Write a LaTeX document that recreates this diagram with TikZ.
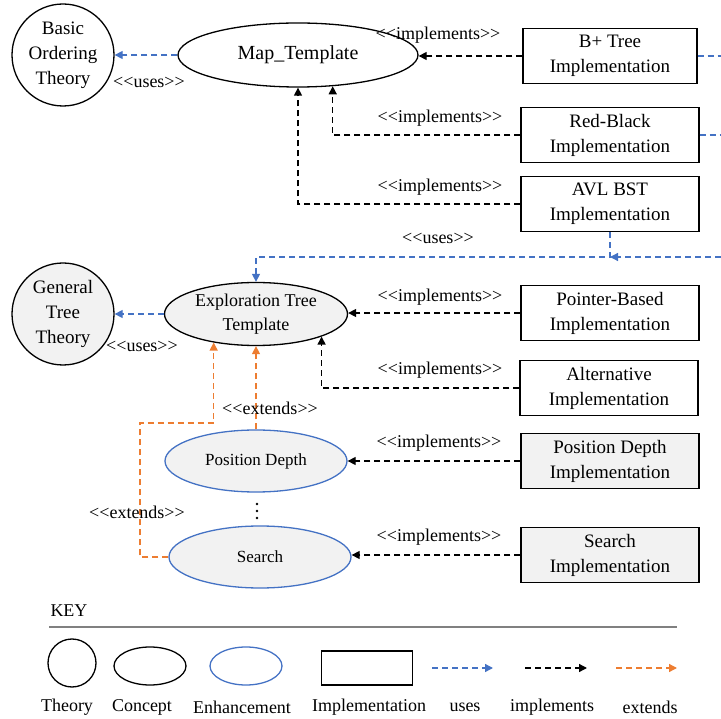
\documentclass[tikz,border=0pt]{standalone}
\usepackage{fontspec}
\setmainfont{Liberation Serif}[Ligatures=TeXOff]
\usepackage{tikz}
\usetikzlibrary{arrows.meta, shapes}

\definecolor{useblue}{HTML}{4472C4}
\definecolor{extorange}{HTML}{ED7D31}
\definecolor{shadegray}{HTML}{F2F2F2}

\begin{document}
\begin{tikzpicture}[
    x=1pt, y=-1pt,
    every node/.style={font=\fontsize{19}{25}\selectfont, align=center, inner sep=0pt},
    theory/.style={draw, circle, line width=1.3pt, minimum size=102pt},
    concept/.style={draw, ellipse, line width=1.3pt},
    enhance/.style={concept, draw=useblue, fill=shadegray, font=\fontsize{17}{22}\selectfont},
    implbox/.style={draw, rectangle, line width=1.3pt, minimum width=178pt, minimum height=55pt},
    lbl/.style={font=\fontsize{18}{22}\selectfont},
    dep/.style={dash pattern=on 6pt off 4pt, line width=1.3pt, -{Triangle[length=8pt,width=8pt]}},
    uses/.style={dep, draw=useblue},
    implements/.style={dep, draw=black},
    extends/.style={dep, draw=extorange}
]
    \useasboundingbox (0,0) rectangle (721,719);

    \node[theory] (basic) at (63,55) {Basic\\Ordering\\Theory};
    \node[concept, minimum width=240pt, minimum height=64pt, font=\fontsize{20}{25}\selectfont] (mapT) at (298,55) {Map\_Template};
    \node[implbox, minimum width=174pt] (bptree) at (610,56) {B+ Tree\\Implementation};
    \node[implbox] (redblack) at (610,135) {Red-Black\\Implementation};
    \node[implbox] (avl) at (610,204) {AVL BST\\Implementation};

    \node[theory, fill=shadegray] (general) at (63,314) {General\\Tree\\Theory};
    \node[concept, fill=shadegray, minimum width=183pt, minimum height=63pt, font=\fontsize{18}{24}\selectfont] (explore) at (256,314) {Exploration Tree\\Template};
    \node[implbox] (pointer) at (610,313) {Pointer-Based\\Implementation};
    \node[implbox] (altern) at (609,388) {Alternative\\Implementation};
    \node[enhance, minimum width=182pt, minimum height=62pt] (posdepth) at (256,461) {Position Depth};
    \node[implbox, fill=shadegray] (posdepthimpl) at (610,461) {Position Depth\\Implementation};
    \node[enhance, minimum width=182pt, minimum height=62pt] (search) at (260,557) {Search};
    \node[implbox, fill=shadegray] (searchimpl) at (610,555) {Search\\Implementation};
    \foreach \dy in {-7,0,7}
        \fill (257,511+\dy) circle (1.3pt);

    \coordinate (bpedge) at (721,56);
    \coordinate (rbedge) at (721,135);
    \coordinate (usesedge) at (721,257);
    \coordinate (usesjoin) at (610,257);
    \coordinate (extbend) at (140,423);

    \draw[uses] (mapT) -- (basic);
    \draw[uses] (explore) -- (general);
    \draw[uses, -] (bptree) -- (bpedge);
    \draw[uses, -] (redblack) -- (rbedge);
    \draw[uses] (usesedge) -- (usesjoin);
    \draw[uses] (avl.south) -- (usesjoin) -| (explore.north);

    \draw[implements] (bptree.west) -- (mapT.east |- bptree.west);
    \draw[implements] (redblack.west) -| (mapT.-42);
    \draw[implements] (avl.west) -| (mapT.south);
    \draw[implements] (pointer.west) -- (explore.east |- pointer.west);
    \draw[implements] (altern.west) -| (explore.-19);
    \draw[implements] (posdepthimpl) -- (posdepth);
    \draw[implements] (searchimpl.west) -- (search.east |- searchimpl.west);

    \draw[extends] (posdepth) -- (explore);
    \draw[extends] (search.west) -| (extbend) -| (explore.-146);

    \node[lbl] (usesbasic) at (149,82) {<<uses>>};
    \node[lbl] (implbp) at (438,35) {<<implements>>};
    \node[lbl] (implrb) at (440,118) {<<implements>>};
    \node[lbl] (implavl) at (440,187) {<<implements>>};
    \node[lbl] (usesavl) at (438,238) {<<uses>>};
    \node[lbl] (usesgen) at (142,346) {<<uses>>};
    \node[lbl] (implptr) at (440,297) {<<implements>>};
    \node[lbl] (implalt) at (440,370) {<<implements>>};
    \node[lbl] (implpd) at (439,443) {<<implements>>};
    \node[lbl] (implsearch) at (439,537) {<<implements>>};
    \node[lbl] (extpd) at (270,408) {<<extends>>};
    \node[lbl] (extsearch) at (137,512) {<<extends>>};

    \node[lbl] (keytitle) at (69,611) {KEY};
    \draw[line width=1.5pt, gray] (49,627) -- (677,627);
    \node[draw, circle, line width=1.3pt, minimum size=48pt] (keytheory) at (72,663) {};
    \node[concept, minimum width=72pt, minimum height=38pt] (keyconcept) at (150,666) {};
    \node[concept, draw=useblue, minimum width=72pt, minimum height=38pt] (keyenhance) at (246,666) {};
    \node[draw, line width=1.3pt, minimum width=91pt, minimum height=34pt] (keyimpl) at (367,668) {};
    \coordinate (keyusesA) at (432,668);
    \coordinate (keyusesB) at (493,668);
    \coordinate (keyimplA) at (525,668);
    \coordinate (keyimplB) at (587,668);
    \coordinate (keyextA) at (616,668);
    \coordinate (keyextB) at (677,668);
    \draw[uses] (keyusesA) -- (keyusesB);
    \draw[implements] (keyimplA) -- (keyimplB);
    \draw[extends] (keyextA) -- (keyextB);
    \node[lbl] (ltheory) at (67,707) {Theory};
    \node[lbl] (lconcept) at (142,707) {Concept};
    \node[lbl] (lenhance) at (242,707) {Enhancement};
    \node[lbl] (limpl) at (369,707) {Implementation};
    \node[lbl] (luses) at (465,707) {uses};
    \node[lbl] (limplements) at (552,707) {implements};
    \node[lbl] (lextends) at (650,707) {extends};
\end{tikzpicture}
\end{document}
